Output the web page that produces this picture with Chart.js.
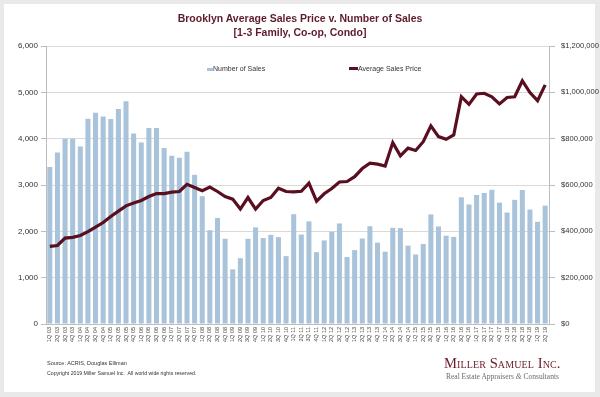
<!DOCTYPE html>
<html>
<head>
<meta charset="utf-8">
<script src="https://cdn.jsdelivr.net/npm/chart.js@4"></script>
<style>
  html, body { margin:0; padding:0; }
  body { width:600px; height:397px; background:#e9e9e9; position:relative; overflow:hidden; font-family:"Liberation Sans", Arial, sans-serif; }
  #card { position:absolute; left:4px; top:4px; width:591px; height:388px; background:#fff; }
  #c { position:absolute; left:0; top:0; }
  .t { position:absolute; white-space:nowrap; }
  #title { left:0; width:600px; top:11px; text-align:center; font-weight:bold; font-size:10.5px; line-height:14px; color:#5e1b2c; }
  .leg { font-size:7px; color:#333; top:65px; }
  .mk { position:absolute; }
  #src { left:47px; top:360px; font-size:5.5px; color:#333; }
  #copy { left:47px; top:370px; font-size:5.2px; color:#333; }
  #logo1 { left:444px; top:355px; font-family:"Liberation Serif", "Times New Roman", serif; font-variant:small-caps; font-size:14.6px; color:#6b1c2c; letter-spacing:0.1px; }
  #logo2 { left:446px; top:372px; font-family:"Liberation Serif", "Times New Roman", serif; font-size:7.5px; color:#6a6a6a; }
</style>
</head>
<body>
<div id="card"></div>
<canvas id="c" width="600" height="397"></canvas>
<div id="title" class="t">Brooklyn Average Sales Price v. Number of Sales<br>[1-3 Family, Co-op, Condo]</div>
<div class="mk" style="left:207px;top:68px;width:6px;height:3px;background:#a8c3da"></div>
<div class="t leg" style="left:213px">Number of Sales</div>
<div class="mk" style="left:349px;top:67px;width:9px;height:3px;background:#5a0f20"></div>
<div class="t leg" style="left:358px">Average Sales Price</div>
<div id="src" class="t">Source: ACRIS, Douglas Elliman</div>
<div id="copy" class="t">Copyright 2019 Miller Samuel Inc.&nbsp; All world wide rights reserved.</div>
<div id="logo1" class="t">Miller Samuel Inc.</div>
<div id="logo2" class="t">Real Estate Appraisers <i>&amp;</i> Consultants</div>
<script>
const quarters = [
  "1Q 03","2Q 03","3Q 03","4Q 03","1Q 04","2Q 04","3Q 04","4Q 04",
  "1Q 05","2Q 05","3Q 05","4Q 05","1Q 06","2Q 06","3Q 06","4Q 06",
  "1Q 07","2Q 07","3Q 07","4Q 07","1Q 08","2Q 08","3Q 08","4Q 08",
  "1Q 09","2Q 09","3Q 09","4Q 09","1Q 10","2Q 10","3Q 10","4Q 10",
  "1Q 11","2Q 11","3Q 11","4Q 11","1Q 12","2Q 12","3Q 12","4Q 12",
  "1Q 13","2Q 13","3Q 13","4Q 13","1Q 14","2Q 14","3Q 14","4Q 14",
  "1Q 15","2Q 15","3Q 15","4Q 15","1Q 16","2Q 16","3Q 16","4Q 16",
  "1Q 17","2Q 17","3Q 17","4Q 17","1Q 18","2Q 18","3Q 18","4Q 18",
  "1Q 19","2Q 19"
];
const numberOfSales = [
  3390,3700,4000,4000,3830,4430,4560,4480,
  4425,4640,4805,4110,3915,4230,4230,3800,
  3630,3590,3715,3220,2760,2025,2290,1840,
  1180,1420,1840,2085,1855,1925,1875,1465,
  2370,1930,2215,1550,1805,1990,2170,1445,
  1595,1845,2110,1755,1560,2075,2070,1690,
  1500,1725,2365,2105,1905,1880,2735,2580,
  2785,2830,2900,2620,2405,2680,2890,2470,
  2205,2555
];
const averageSalesPrice = [
  335000,339000,371000,374000,382000,399000,418000,438000,
  464000,487000,510000,522000,533000,550000,563000,563000,
  569000,572000,603000,589000,575000,591000,572000,550000,
  539000,496000,546000,496000,533000,546000,586000,572000,
  570000,573000,608000,530000,562000,585000,613000,615000,
  636000,671000,694000,690000,682000,783000,726000,759000,
  749000,787000,855000,809000,797000,816000,981000,948000,
  993000,996000,981000,950000,978000,981000,1050000,999000,
  964000,1032000
];
const salesTicks = [0,1000,2000,3000,4000,5000,6000];
const priceTicks = [0,200000,400000,600000,800000,1000000,1200000];

Chart.defaults.font.family = '"Liberation Sans", Arial, sans-serif';
Chart.defaults.color = '#333';

new Chart(document.getElementById('c'), {
  data: {
    labels: quarters,
    datasets: [
      { type:'line', label:'Average Sales Price', data: averageSalesPrice, yAxisID:'y1',
        borderColor:'#5a0f20', borderWidth:3.2, pointRadius:0, tension:0, order:0 },
      { type:'bar', label:'Number of Sales', data: numberOfSales, yAxisID:'y',
        backgroundColor:'#a8c3da', barPercentage:0.66, categoryPercentage:1, order:1 }
    ]
  },
  options: {
    responsive:false, animation:false, devicePixelRatio:1,
    layout:{ padding:{ top:46, left:0, right:0, bottom:0 } },
    plugins:{ legend:{ display:false }, tooltip:{ enabled:false }, title:{ display:false } },
    scales:{
      x:{
        grid:{ display:false, drawTicks:false },
        border:{ display:true, color:'#bdbdbd' },
        ticks:{ minRotation:90, maxRotation:90, autoSkip:false, font:{ size:5.5 }, color:'#444', padding:3 },
        afterFit(s){ s.height = 73; }
      },
      y:{
        position:'left', min:0, max:6000,
        afterBuildTicks(s){ s.ticks = salesTicks.map(v => ({ value:v })); },
        ticks:{ callback: v => v.toLocaleString('en-US'), font:{ size:8 }, color:'#333', padding:3 },
        grid:{ color:'#d9d9d9', tickLength:5, tickColor:'#bdbdbd' },
        border:{ color:'#bdbdbd' },
        afterFit(s){ s.width = 46; }
      },
      y1:{
        position:'right', min:0, max:1200000,
        afterBuildTicks(s){ s.ticks = priceTicks.map(v => ({ value:v })); },
        ticks:{ callback: v => '$' + v.toLocaleString('en-US'), font:{ size:7.6 }, color:'#333', padding:6 },
        grid:{ drawOnChartArea:false, tickLength:6, tickColor:'#bdbdbd' },
        border:{ color:'#bdbdbd' },
        afterFit(s){ s.width = 51; }
      }
    }
  }
});
</script>
</body>
</html>
